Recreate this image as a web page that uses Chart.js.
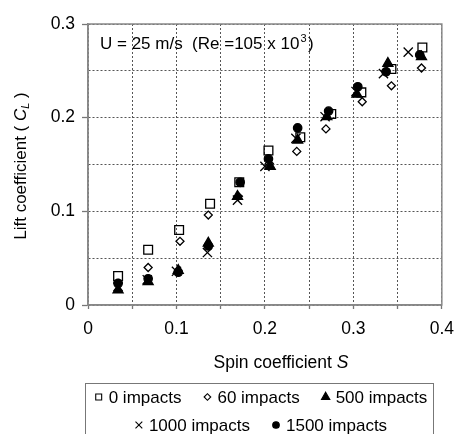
<!DOCTYPE html>
<html>
<head>
<meta charset="utf-8">
<script src="https://cdn.jsdelivr.net/npm/chart.js"></script>
<style>
  body { margin: 0; background: #fff; }
  canvas { display: block; }
</style>
</head>
<body>
<canvas id="myChart" width="464" height="434"></canvas>
<script>
// spin coefficient S (x) and lift coefficient CL (y) for each series
var spin0    = [0.034, 0.068, 0.103, 0.138, 0.171, 0.204, 0.240, 0.275, 0.309, 0.343, 0.378];
var lift0    = [0.031, 0.059, 0.080, 0.108, 0.131, 0.165, 0.179, 0.204, 0.227, 0.252, 0.275];
var spin60   = [0.034, 0.068, 0.104, 0.136, 0.170, 0.205, 0.236, 0.269, 0.310, 0.343, 0.377];
var lift60   = [0.023, 0.040, 0.068, 0.096, 0.116, 0.151, 0.164, 0.188, 0.217, 0.234, 0.253];
var spin500  = [0.034, 0.068, 0.102, 0.136, 0.169, 0.206, 0.237, 0.270, 0.304, 0.339, 0.377];
var lift500  = [0.016, 0.025, 0.037, 0.066, 0.116, 0.148, 0.176, 0.201, 0.225, 0.258, 0.265];
var spin1000 = [0.034, 0.067, 0.100, 0.135, 0.169, 0.200, 0.235, 0.268, 0.303, 0.334, 0.362];
var lift1000 = [0.020, 0.027, 0.036, 0.056, 0.112, 0.148, 0.178, 0.201, 0.228, 0.247, 0.270];
var spin1500 = [0.034, 0.068, 0.102, 0.136, 0.172, 0.204, 0.237, 0.272, 0.305, 0.337, 0.375];
var lift1500 = [0.023, 0.028, 0.035, 0.063, 0.131, 0.156, 0.189, 0.207, 0.233, 0.249, 0.267];

var seriesLabels = ['0 impacts', '60 impacts', '500 impacts', '1000 impacts', '1500 impacts'];
var xTicks = [0, 0.1, 0.2, 0.3, 0.4];
var yTicks = [0, 0.1, 0.2, 0.3];

var FONT = '"Liberation Sans", Arial, sans-serif';

function pts(xs, ys) {
	var out = [];
	for (let i = 0; i < xs.length; i++) { out.push({x: xs[i], y: ys[i]}); }
	return out;
}

function isMajor(v, list) {
	for (let i = 0; i < list.length; i++) {
		if (Math.abs(v - list[i]) < 1e-6) return true;
	}
	return false;
}

// marker shapes, also used for the legend (lr = legend radius)
var styles = [
	{pointStyle: 'rect', radius: 6.2, fill: 'rgba(0,0,0,0)', lr: 4.2},
	{pointStyle: 'rectRot', radius: 4, fill: 'rgba(0,0,0,0)', lr: 3.3},
	{pointStyle: 'triangle', radius: 5.8, fill: '#000', lr: 4.8},
	{pointStyle: 'crossRot', radius: 6.5, fill: '#000', lr: 4.8},
	{pointStyle: 'circle', radius: 4.2, fill: '#000', lr: 3.3}
];

var allData = [pts(spin0, lift0), pts(spin60, lift60), pts(spin500, lift500), pts(spin1000, lift1000), pts(spin1500, lift1500)];

var datasets = [];
for (let i = 0; i < allData.length; i++) {
	datasets.push({
		label: seriesLabels[i],
		data: allData[i],
		pointStyle: styles[i].pointStyle,
		pointRadius: styles[i].radius,
		pointBackgroundColor: styles[i].fill,
		pointBorderColor: '#000',
		pointBorderWidth: 1.3,
		showLine: false
	});
}

var extras = {
	id: 'extras',
	afterDraw: function(chart) {
		var ctx = chart.ctx;
		var a = chart.chartArea;
		ctx.save();
		// plot frame
		ctx.strokeStyle = '#888';
		ctx.lineWidth = 1.5;
		ctx.strokeRect(a.left, a.top, a.right - a.left, a.bottom - a.top);

		ctx.fillStyle = '#000';
		ctx.textBaseline = 'middle';
		ctx.textAlign = 'left';

		// annotation inside plot
		ctx.font = '17px ' + FONT;
		var t1 = 'U = 25 m/s  (Re =105 x 10';
		var x0 = a.left + 12;
		ctx.fillText(t1, x0, 44);
		var w1 = ctx.measureText(t1).width;
		ctx.font = '11px ' + FONT;
		ctx.fillText('3', x0 + w1 + 1, 39);
		var w2 = ctx.measureText('3').width;
		ctx.font = '17px ' + FONT;
		ctx.fillText(')', x0 + w1 + w2 + 2.5, 44);

		// x axis title
		ctx.font = '17.5px ' + FONT;
		var xt = 'Spin coefficient ';
		var wx = ctx.measureText(xt).width;
		ctx.font = 'italic 17.5px ' + FONT;
		var ws = ctx.measureText('S').width;
		var sx = 281 - (wx + ws) / 2;
		ctx.font = '17.5px ' + FONT;
		ctx.fillText(xt, sx, 363);
		ctx.font = 'italic 17.5px ' + FONT;
		ctx.fillText('S', sx + wx, 363);

		// y axis title, rotated
		ctx.save();
		ctx.translate(21, 166);
		ctx.rotate(-Math.PI / 2);
		ctx.font = '17px ' + FONT;
		var ya = 'Lift coefficient ( ';
		var wa = ctx.measureText(ya).width;
		ctx.font = 'italic 17px ' + FONT;
		var wc = ctx.measureText('C').width;
		ctx.font = 'italic 11px ' + FONT;
		var wl = ctx.measureText('L').width;
		ctx.font = '17px ' + FONT;
		var wr = ctx.measureText(' )').width;
		var total = wa + wc + wl + wr;
		var yx = -total / 2;
		ctx.fillText(ya, yx, 0);
		ctx.font = 'italic 17px ' + FONT;
		ctx.fillText('C', yx + wa, 0);
		ctx.font = 'italic 11px ' + FONT;
		ctx.fillText('L', yx + wa + wc, 5);
		ctx.font = '17px ' + FONT;
		ctx.fillText(' )', yx + wa + wc + wl, 0);
		ctx.restore();

		// legend box
		ctx.strokeStyle = '#777';
		ctx.lineWidth = 1;
		ctx.strokeRect(85.5, 383.5, 348, 60);
		var rows = [[0, 1, 2], [3, 4]];
		var rowY = [397, 425];
		var gap = 22;
		ctx.font = '17px ' + FONT;
		for (let r = 0; r < rows.length; r++) {
			var items = rows[r];
			var widths = [];
			var sum = 0;
			for (let k = 0; k < items.length; k++) {
				var w = 14 + ctx.measureText(seriesLabels[items[k]]).width;
				widths.push(w);
				sum += w;
			}
			sum += gap * (items.length - 1);
			var cx = 261 - sum / 2;
			for (let k = 0; k < items.length; k++) {
				var st = styles[items[k]];
				ctx.fillStyle = st.fill;
				ctx.strokeStyle = '#000';
				ctx.lineWidth = 1.1;
				Chart.helpers.drawPoint(ctx, {
					pointStyle: st.pointStyle,
					radius: st.lr,
					borderWidth: 1.1
				}, cx + 4, rowY[r]);
				ctx.fillStyle = '#000';
				ctx.fillText(seriesLabels[items[k]], cx + 14, rowY[r] + 1);
				cx += widths[k] + gap;
			}
		}
		ctx.restore();
	}
};

var ctxEl = document.getElementById('myChart');
var myChart = new Chart(ctxEl, {
	type: 'scatter',
	data: { datasets: datasets },
	options: {
		responsive: false,
		devicePixelRatio: 1,
		animation: false,
		events: [],
		layout: { padding: { top: 24, right: 13, left: 0, bottom: 0 } },
		plugins: {
			legend: { display: false },
			tooltip: { enabled: false }
		},
		scales: {
			x: {
				type: 'linear',
				min: 0,
				max: 0.4,
				afterFit: function(scale) { scale.height = 129; },
				ticks: {
					stepSize: 0.05,
					autoSkip: false,
					maxRotation: 0,
					padding: 10,
					color: '#000',
					font: { family: FONT, size: 17.5 },
					callback: function(v) {
						if (!isMajor(v, xTicks)) return '';
						return v === 0 ? '0' : v.toFixed(1);
					}
				},
				grid: {
					color: '#555',
					lineWidth: 1,
					tickLength: 4,
					tickColor: '#777',
					tickWidth: 1.3
				},
				border: { color: '#888', width: 1.5, dash: [2, 2] }
			},
			y: {
				type: 'linear',
				min: 0,
				max: 0.3,
				afterFit: function(scale) { scale.width = 88; },
				ticks: {
					stepSize: 0.05,
					autoSkip: false,
					padding: 7,
					color: '#000',
					font: { family: FONT, size: 17.5 },
					callback: function(v) {
						if (!isMajor(v, yTicks)) return '';
						return v === 0 ? '0' : v.toFixed(1);
					}
				},
				grid: {
					color: '#555',
					lineWidth: 1,
					tickLength: 6,
					tickWidth: 1.3,
					tickColor: function(c) {
						return (c.tick && isMajor(c.tick.value, yTicks)) ? '#777' : 'rgba(0,0,0,0)';
					}
				},
				border: { color: '#888', width: 1.5, dash: [2, 2] }
			}
		}
	},
	plugins: [extras]
});
</script>
</body>
</html>
